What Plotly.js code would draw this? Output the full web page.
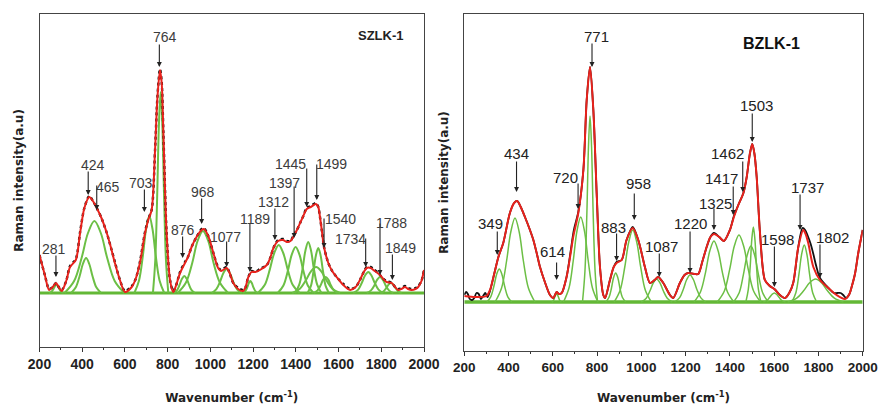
<!DOCTYPE html>
<html>
<head>
<meta charset="utf-8">
<script src="https://cdn.plot.ly/plotly-3.0.1.min.js"></script>
<style>html,body{margin:0;padding:0;background:#fff;}#chart{width:878px;height:405px;}</style>
</head>
<body>
<div id="chart"></div>
<script>
// ---------- SZLK-1 (left panel) ----------
const szlkFitX = [200,225,245,262,277,290,304,325,343,370,390,410,433,450,468,490,515,535,553,575,600,632,650,670,694,709,725,741,752,764,772,780,795,811,826,840,858,881,895,912,935,959,970,990,1014,1036,1050,1076,1090,1107,1130,1153,1165,1176,1193,1210,1232,1264,1280,1295,1317,1340,1357,1375,1388,1405,1420,1435,1451,1470,1494,1505,1513,1522,1532,1552,1570,1591,1622,1654,1680,1700,1718,1732,1750,1763,1794,1810,1825,1849,1865,1880,1895,1911,1925,1942,1960,1973,1988,2000];
const szlkFitY = [38,18,3,6,10,6,2,12,26,33,60,85,96,92,85,75,60,45,30,14,1,6,14,30,60,73,83,143,195,223,210,160,60,13,1,8,20,30,36,46,56,63,64,57,40,25,22,25,20,10,4,2,6,15,21,21,23,28,35,45,52,53,51,52,56,63,70,77,84,86,89,86,76,62,46,30,22,16,8,3,6,13,21,25,25,23,18,14,11,10,6,3,4,6,4,3,4,6,12,23];
const szlkDataX = [200,225,245,262,277,290,304,325,343,370,390,410,433,450,468,490,515,535,553,575,600,632,650,670,694,709,725,741,752,764,772,780,795,811,826,840,858,881,895,912,935,959,970,990,1014,1036,1050,1076,1090,1107,1130,1153,1165,1176,1193,1210,1232,1264,1280,1295,1317,1340,1357,1375,1388,1405,1420,1435,1451,1470,1494,1505,1513,1522,1532,1552,1570,1591,1622,1654,1680,1700,1718,1732,1750,1763,1794,1810,1825,1849,1865,1880,1895,1911,1925,1942,1960,1973,1988,2000];
const szlkDataY = [38,18,4,6,10,6,3,12,27,34,61,85,97,92,85,75,60,45,31,14,2,7,14,31,61,74,83,143,196,224,211,160,60,13,2,8,21,31,36,46,56,64,65,57,40,26,23,26,20,10,5,3,6,15,22,21,24,28,35,45,53,54,52,52,57,63,70,77,85,87,90,86,76,62,46,30,22,16,9,4,6,13,21,26,26,24,18,14,12,10,6,4,5,7,5,4,5,7,12,23];
const szlkCompX = [
  [245,256,265,272,279,286,293,302,313],
  [348,370,388,403,418,433,448,466,488],
  [317,362,397,427,457,487,517,552,597],
  [644,666,684,699,714,729,744,762,784],
  [731,742,751,759,767,775,783,792,803],
  [828,844,856,867,878,889,900,912,928],
  [847,885,915,940,965,990,1015,1045,1083],
  [1006,1028,1046,1061,1076,1091,1106,1124,1146],
  [1153,1164,1173,1180,1187,1194,1201,1210,1221],
  [1222,1254,1278,1299,1320,1341,1362,1386,1418],
  [1315,1342,1363,1381,1399,1417,1435,1456,1483],
  [1396,1416,1432,1445,1458,1471,1484,1500,1520],
  [1455,1471,1483,1494,1505,1516,1527,1539,1555],
  [1383,1419,1447,1471,1495,1519,1543,1571,1607],
  [1484,1502,1516,1528,1540,1552,1564,1578,1596],
  [1669,1692,1709,1724,1739,1754,1769,1787,1809],
  [1732,1752,1768,1781,1794,1807,1820,1836,1856],
  [1795,1811,1823,1834,1845,1856,1867,1879,1895]
];
const szlkCompY = [
  [0,1.3,3.9,6.7,8,6.7,3.9,1.3,0],
  [0,5.7,17,29,35,29,17,5.7,0],
  [0,12,35,60,72,60,35,12,0],
  [0,12.6,37.5,64,77,64,37.5,12.6,0],
  [0,33,98,168,201,168,98,33,0],
  [0,2.8,8.3,14.2,17,14.2,8.3,2.8,0],
  [0,10.2,30,52,62,52,30,10.2,0],
  [0,3.9,11.7,20,24,20,11.7,3.9,0],
  [0,2,5.8,10,12,10,5.8,2,0],
  [0,7.9,23.4,40,48,40,23.4,7.9,0],
  [0,7.5,22.4,38.4,46,38.4,22.4,7.5,0],
  [0,8.4,24.8,42.6,51,42.6,24.8,8.4,0],
  [0,7.4,22,37.6,45,37.6,22,7.4,0],
  [0,4.3,12.7,21.7,26,21.7,12.7,4.3,0],
  [0,2.6,7.8,13.4,16,13.4,7.8,2.6,0],
  [0,3.4,10.2,17.5,21,17.5,10.2,3.4,0],
  [0,2.6,7.8,13.4,16,13.4,7.8,2.6,0],
  [0,1.6,4.9,8.4,10,8.4,4.9,1.6,0]
];
const szlkLabels = ['281','424','465','703','764','876','968','1077','1189','1312','1397','1445','1499','1540','1734','1788','1849'];
const szlkTextX  = [268,452,522,675,786,873,967,1070,1207,1295,1348,1377,1565,1607,1654,1847,1888];
const szlkTextY  = [44,128,106,110,256,63,101,56,74,91,110,129,129,74,54,70,45];
const szlkArrowX = [277,428,468,691,761,870,959,1076,1185,1302,1392,1451,1498,1532,1727,1794,1852];
const szlkTailY  = [39,123,109,105,250,58,96,53,71,86,108,126,130,76,56,71,40];
const szlkHeadY  = [16,98,83,81,226,35,69,26,21,53,55,86,93,45,26,18,13];

// ---------- BZLK-1 (right panel) ----------
const bzlkFitX = [200,250,300,316,335,354,376,406,425,439,455,474,495,512,528,542,564,587,602,617,628,640,662,680,692,715,738,753,768,783,798,813,828,836,858,875,888,911,933,961,986,1000,1016,1039,1060,1076,1099,1129,1144,1174,1195,1212,1240,1257,1275,1295,1312,1328,1352,1373,1400,1418,1438,1461,1476,1490,1501,1511,1521,1536,1558,1580,1601,1626,1649,1668,1686,1709,1732,1742,1754,1777,1807,1845,1882,1920,1940,1950,1965,1980,2000];
const bzlkFitY = [6,5,6,12,28,45,59,89,99,101,95,85,73,62,48,35,20,7,4,10,8,9,25,48,65,89,132,202,235,192,109,35,7,4,22,35,39,42,62,74,62,50,35,19,22,25,19,7,4,19,27,29,28,28,40,55,65,68,65,61,72,85,97,109,125,148,158,148,125,69,22,16,13,7,4,9,19,55,72,68,59,35,22,14,7,3,8,15,28,49,72];
const bzlkDataX = [200,208,216,225,235,245,255,265,275,285,295,305,316,335,354,376,406,425,439,455,474,495,512,528,542,564,587,602,617,628,640,662,680,695,715,738,753,768,783,798,813,828,836,858,875,888,911,933,961,986,1000,1016,1039,1060,1076,1099,1129,1144,1174,1195,1212,1240,1257,1275,1295,1312,1328,1352,1373,1400,1418,1438,1461,1476,1490,1501,1511,1521,1536,1558,1580,1601,1626,1649,1668,1686,1709,1728,1740,1752,1765,1777,1790,1807,1845,1870,1885,1900,1912,1925,1940,1950,1965,1980,2000];
const bzlkDataY = [7,10,8,3,2,4,9,8,3,6,9,5,11,28,45,59,89,99,101,95,85,73,62,48,35,20,7,4,10,8,9,25,50,72,90,132,202,235,192,109,35,7,4,22,35,40,42,62,75,62,50,35,19,22,25,19,7,4,19,27,29,28,28,40,55,65,69,65,61,72,86,97,109,125,148,158,148,125,69,22,16,13,7,4,9,19,55,74,72,66,58,48,36,24,14,9,9,9,7,4,8,15,28,49,72];
const bzlkCompX = [
  [302,320,334,346,358,370,382,396,414],
  [339,368,391,410,429,448,467,490,519],
  [595,602,607,612,617,622,627,632,639],
  [648,673,692,709,726,743,760,779,804],
  [734,745,754,761,768,775,782,791,802],
  [839,854,865,874,884,894,903,914,929],
  [877,904,925,943,961,979,997,1018,1045],
  [999,1022,1039,1054,1069,1084,1099,1117,1139],
  [1150,1173,1190,1205,1220,1235,1250,1268,1290],
  [1238,1267,1290,1309,1328,1347,1366,1389,1418],
  [1343,1375,1399,1420,1441,1462,1483,1507,1539],
  [1417,1442,1461,1478,1495,1512,1529,1548,1573],
  [1472,1483,1492,1499,1506,1513,1520,1529,1540],
  [1551,1567,1579,1590,1601,1612,1623,1635,1651],
  [1680,1698,1712,1724,1736,1748,1760,1774,1792],
  [1661,1702,1733,1760,1787,1814,1841,1872,1913]
];
const bzlkCompY = [
  [0,5.4,16,27.6,33,27.6,16,5.4,0],
  [0,13.8,41,70,84,70,41,13.8,0],
  [0,1.3,3.9,6.7,8,6.7,3.9,1.3,0],
  [0,14,41,71,85,71,41,14,0],
  [0,30.5,90.6,155,186,155,90.6,30.5,0],
  [0,4.8,14,24,29,24,14,4.8,0],
  [0,11.8,35,60,72,60,35,11.8,0],
  [0,3.8,11.2,19.2,23,19.2,11.2,3.8,0],
  [0,4.4,13,22.5,27,22.5,13,4.4,0],
  [0,10,29.7,51,61,51,29.7,10,0],
  [0,11,32.6,56,67,56,32.6,11,0],
  [0,9.2,27.3,46.8,56,46.8,27.3,9.2,0],
  [0,12.3,36.5,62.6,75,62.6,36.5,12.3,0],
  [0,1.5,4.4,7.5,9,7.5,4.4,1.5,0],
  [0,9.3,27.8,47.6,57,47.6,27.8,9.3,0],
  [0,3.8,11.2,19.2,23,19.2,11.2,3.8,0]
];
const bzlkLabels = ['349','434','614','720','771','883','958','1087','1220','1325','1417','1462','1503','1598','1737','1802'];
const bzlkTextX  = [317,438,599,659,799,873,985,1089,1220,1334,1364,1390,1518,1617,1750,1864];
const bzlkTextY  = [79,149,51,125,265,75,119,56,79,99,124,149,196,63,115,65];
const bzlkArrowX = [349,436,617,714,777,888,968,1081,1220,1328,1415,1458,1501,1601,1717,1807];
const bzlkTailY  = [72,142,41,120,260,70,110,50,72,95,117,142,190,57,109,59];
const bzlkHeadY  = [47,110,22,93,235,41,82,25,29,72,87,110,160,15,72,24];

const baseX = [200, 2000];
const baseY = [0, 0];

// ---------- build ----------
const GREEN = '#6cbf45';
const RED = '#e8221c';
const traces = [];
function addPanel(xa, ya, compX, compY, dX, dY, fX, fY, compW, baseW, dataStyle){
  traces.push({x: baseX, y: baseY, xaxis: xa, yaxis: ya, mode: 'lines',
    line: {color: '#63b836', width: baseW}, hoverinfo: 'skip'});
  for (let i = 0; i < compX.length; i++){
    traces.push({x: compX[i], y: compY[i], xaxis: xa, yaxis: ya, mode: 'lines',
      line: {color: GREEN, width: compW, shape: 'spline', smoothing: 1}, hoverinfo: 'skip'});
  }
  traces.push({x: dX, y: dY, xaxis: xa, yaxis: ya, mode: 'lines',
    line: Object.assign({color: '#111', shape: 'spline', smoothing: 0.8}, dataStyle), hoverinfo: 'skip'});
  traces.push({x: fX, y: fY, xaxis: xa, yaxis: ya, mode: 'lines',
    line: {color: RED, width: 2, shape: 'spline', smoothing: 0.8}, hoverinfo: 'skip'});
}
addPanel('x', 'y', szlkCompX, szlkCompY, szlkDataX, szlkDataY, szlkFitX, szlkFitY, 2, 3, {width: 2.4, dash: 'dot'});
addPanel('x2', 'y2', bzlkCompX, bzlkCompY, bzlkDataX, bzlkDataY, bzlkFitX, bzlkFitY, 1.5, 3.5, {width: 1.8});

const annotations = [];
function addLabels(xr, yr, labels, tx, ty, axp, tail, head, font){
  for (let i = 0; i < labels.length; i++){
    annotations.push({x: axp[i], y: head[i], ax: axp[i], ay: tail[i], xref: xr, yref: yr,
      axref: xr, ayref: yr, text: '', showarrow: true, arrowhead: 2, arrowsize: 0.9,
      arrowwidth: 1.1, arrowcolor: '#222'});
    annotations.push({x: tx[i], y: ty[i], xref: xr, yref: yr, text: labels[i], showarrow: false,
      font: font});
  }
}
addLabels('x', 'y', szlkLabels, szlkTextX, szlkTextY, szlkArrowX, szlkTailY, szlkHeadY,
  {family: 'Liberation Sans, Arial, sans-serif', size: 14, color: '#3c3c3c'});
addLabels('x2', 'y2', bzlkLabels, bzlkTextX, bzlkTextY, bzlkArrowX, bzlkTailY, bzlkHeadY,
  {family: 'Liberation Sans, Arial, sans-serif', size: 15, color: '#222'});

annotations.push({xref: 'paper', yref: 'paper', x: 381/878, y: 1 - 26/405, text: 'SZLK-1',
  showarrow: false, font: {family: 'Liberation Sans, Arial, sans-serif', size: 13, color: '#222', weight: 'bold'}});
annotations.push({xref: 'paper', yref: 'paper', x: 802/878, y: 1 - 33/405, text: 'BZLK-1',
  showarrow: false, font: {family: 'Liberation Sans, Arial, sans-serif', size: 16, color: '#111', weight: 'bold'}});

const titleFont = {family: 'DejaVu Sans, Verdana, sans-serif', size: 12, color: '#222', weight: 'bold'};
function xAxis(domain, standoff, tickSize){
  return {domain: domain, range: [200, 2000], dtick: 200, tick0: 200, ticks: 'outside', ticklen: 4,
    tickcolor: '#333', tickwidth: 1, showline: true, mirror: true, linecolor: '#444', linewidth: 1,
    showgrid: false, zeroline: false, ticklabeloverflow: 'allow',
    tickfont: {family: 'Liberation Sans, Arial, sans-serif', size: tickSize, color: '#222', weight: 'bold'},
    minor: {dtick: 100, ticks: 'outside', ticklen: 2, tickcolor: '#333'},
    title: {text: 'Wavenumber (cm<sup>-1</sup>)', font: titleFont, standoff: standoff}};
}
function yAxis(domain, range, anchor){
  return {domain: domain, range: range, anchor: anchor, showticklabels: false, ticks: '',
    showline: true, mirror: true, linecolor: '#444', linewidth: 1, showgrid: false, zeroline: false,
    title: {text: 'Raman intensity(a.u)', font: titleFont, standoff: 12}};
}
const layout = {
  width: 878, height: 405, margin: {l: 0, r: 0, t: 0, b: 0},
  paper_bgcolor: '#fff', plot_bgcolor: '#fff', showlegend: false,
  xaxis: xAxis([39.5/878, 424/878], 23, 14),
  yaxis: yAxis([1 - 347/405, 1 - 14/405], [-54, 279], 'x'),
  xaxis2: Object.assign(xAxis([464.3/878, 862.7/878], 24, 13.5), {anchor: 'y2'}),
  yaxis2: yAxis([1 - 351/405, 1 - 14/405], [-49, 288], 'x2'),
  annotations: annotations
};
layout.xaxis.anchor = 'y';
Plotly.newPlot('chart', traces, layout, {staticPlot: true, displayModeBar: false});
</script>
</body>
</html>
